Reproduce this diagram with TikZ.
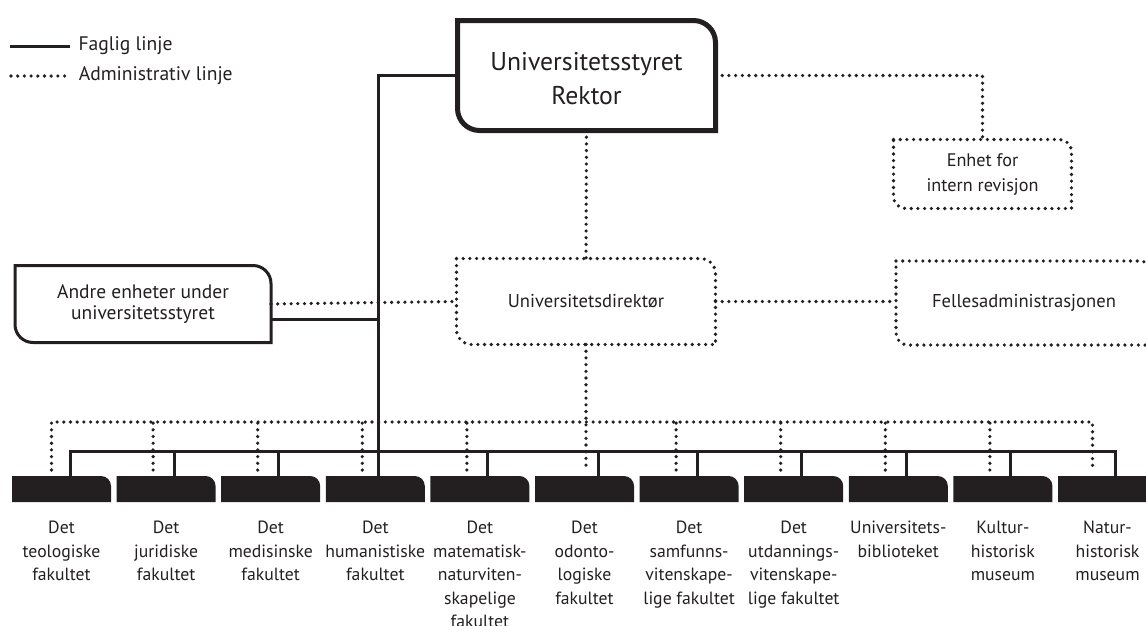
\documentclass[tikz,border=0pt]{standalone}
\usepackage{fontspec}
\setmainfont{PT Sans}
\definecolor{ink}{HTML}{231F20}

% box with rounded top right and bottom left corners
\newcommand{\tworound}[3][]{%
  \draw[#1] (#2.north west) -- ([xshift=-#3]#2.north east)
    arc[start angle=90, end angle=0, radius=#3] -- (#2.south east)
    -- ([xshift=#3]#2.south west)
    arc[start angle=270, end angle=180, radius=#3] -- cycle;}

\tikzset{
  faglig/.style={line width=3pt, draw=ink},
  admin/.style={line width=3.6pt, draw=ink, dash pattern=on 0pt off 6.7pt, line cap=round},
  unit/.style={inner sep=0pt, outer sep=0pt, align=center, text=ink,
    font=\fontsize{18.6}{24}\selectfont},
  fakbox/.style={minimum width=99pt, minimum height=26pt, inner sep=0pt, outer sep=0pt},
  faklabel/.style={anchor=north, align=center, inner sep=0pt, text=ink,
    font=\fontsize{17.7}{23.5}\selectfont},
  legtext/.style={right=7pt, inner sep=0pt, text=ink, font=\fontsize{19.6}{22}\selectfont},
}

\begin{document}
\begin{tikzpicture}[x=1pt,y=1pt]
  \useasboundingbox (0,0) rectangle (1146,-625);
  \clip (0,0) rectangle (1146,-625);

  % Legend
  \draw[faglig] (10,-46) -- ++(60,0) node[legtext] (legfag) {Faglig linje};
  \draw[admin] (11,-76) -- ++(59,0) node[legtext] (legadm) {Administrativ linje};

  % Boxes
  \node[unit, minimum width=258pt, minimum height=110pt] (styret) at (586.5,-75.5) {};
  \node[unit, font=\fontsize{25.7}{34}\selectfont] (styrettxt) at ([yshift=-3pt]styret.center) {Universitetsstyret\\Rektor};
  \tworound[line width=5pt, ink]{styret}{22pt}
  \node[unit, minimum width=178pt, minimum height=69pt, font=\fontsize{18.2}{25}\selectfont] (revisjon) at (982.5,-174) {Enhet for\\intern revisjon};
  \tworound[admin]{revisjon}{12pt}
  \node[unit, minimum width=259pt, minimum height=86pt] (dir) at (586,-301.5) {Universitetsdirektør};
  \tworound[admin]{dir}{15pt}
  \node[unit, minimum width=256pt, minimum height=84pt] (fel) at (1024,-303) {Fellesadministrasjonen};
  \tworound[admin]{fel}{12pt}
  \node[unit, minimum width=256pt, minimum height=77pt, font=\fontsize{19.5}{21}\selectfont] (andre) at (143,-304) {Andre enheter under\\universitetsstyret};
  \tworound[faglig]{andre}{18pt}

  % Fakulteter og museer
  \foreach \i/\fak in {1/{Det\\teologiske\\fakultet}, 2/{Det\\juridiske\\fakultet},
      3/{Det\\medisinske\\fakultet}, 4/{Det\\humanistiske\\fakultet},
      5/{Det\\matematisk-\\naturviten-\\skapelige\\fakultet}, 6/{Det\\odonto-\\logiske\\fakultet},
      7/{Det\\samfunns-\\vitenskape-\\lige fakultet}, 8/{Det\\utdannings-\\vitenskape-\\lige fakultet},
      9/{Universitets-\\biblioteket}, 10/{Kultur-\\historisk\\museum}, 11/{Natur-\\historisk\\museum}} {
    \node[fakbox] (f\i) at ({61.5+104.6*(\i-1)},-489) {};
    \fill[ink] (f\i.south west) -- (f\i.north west) -- ([xshift=-10pt]f\i.north east)
      arc[start angle=90, end angle=0, radius=10pt] -- (f\i.south east) -- cycle;
    \node[faklabel, yshift=-19pt] (l\i) at (f\i.south) {\fak};
  }

  % Faglig linje
  \coordinate (stem) at ([xshift=3pt]f4.north);
  \draw[faglig] (styret.west) -| (stem);
  \draw[faglig] ([yshift=-15pt]andre.east) -| (stem);
  \draw[faglig] ([xshift=9pt]f1.north) -- ++(0,25) -| ([xshift=8pt]f11.north);
  \foreach \i in {2,3,5,7,8,9,10}
    \draw[faglig] ([xshift=8pt]f\i.north) -- ++(0,25);
  \draw[faglig] ([xshift=14pt]f6.north) -- ++(0,25);

  % Administrativ linje
  \draw[admin] (styret.east) -| (revisjon.north);
  \draw[admin] (styret.south) -- (dir.north);
  \draw[admin] (andre.east) -- (dir.west);
  \draw[admin] (dir.east) -- (dir.east -| fel.west);
  \draw[admin] (dir.south) -- ([yshift=6pt]dir.south |- f6.north);
  \draw[admin] ([xshift=-10pt,yshift=6pt]f1.north) -- ++(0,48) -| ([xshift=-15pt,yshift=6pt]f11.north);
  \foreach \i in {2,3,4,5,7,8,9,10}
    \draw[admin] ([xshift=-13pt,yshift=6pt]f\i.north) -- ++(0,48);
\end{tikzpicture}
\end{document}
